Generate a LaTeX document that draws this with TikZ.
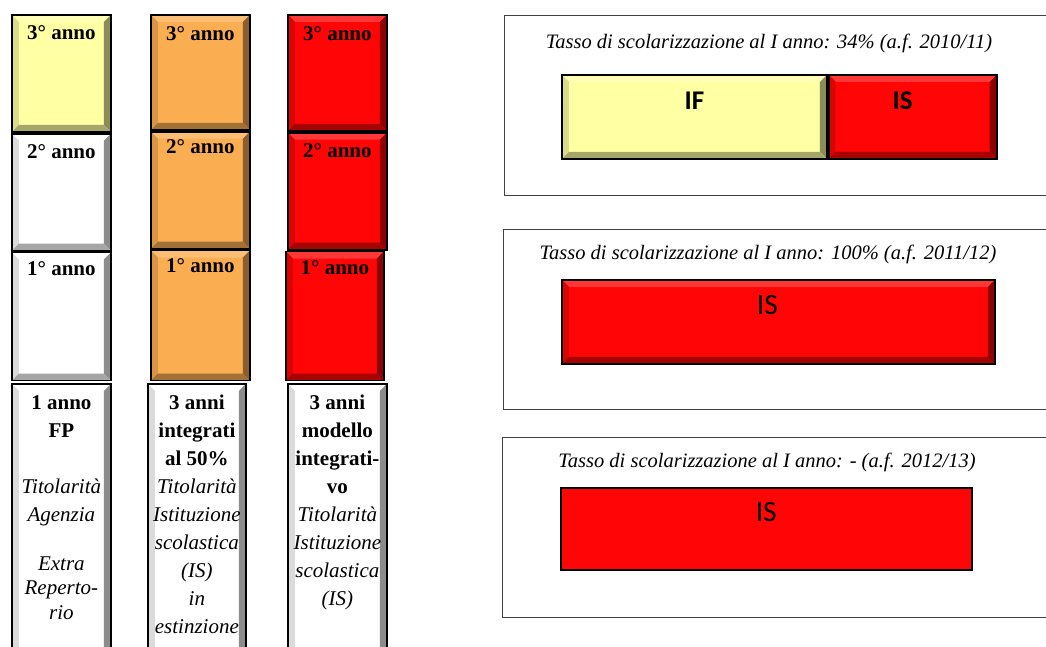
\documentclass[tikz,border=0pt]{standalone}
\usepackage{fontspec}
\setmainfont{Liberation Serif}
\newfontfamily\calibri{Carlito}
\usetikzlibrary{positioning}
\definecolor{anno-yellow}{HTML}{FFFFA3}
\definecolor{anno-orange}{HTML}{FBAD52}
\definecolor{anno-red}{HTML}{FF0505}
\definecolor{frame-gray}{HTML}{404040}

\begin{document}
\begin{tikzpicture}[x=1pt, y=-1pt,
    bevel/.style={rectangle, draw=black, line width=1.8pt, fill=#1, anchor=north west, inner sep=0pt,
        path picture={
            \fill[#1!80!white] (path picture bounding box.north west) -- (path picture bounding box.north east)
                -- ([xshift=-7pt,yshift=-7pt]path picture bounding box.north east) -- ([xshift=7pt,yshift=-7pt]path picture bounding box.north west) -- cycle;
            \fill[#1!86!black] (path picture bounding box.north west) -- ([xshift=7pt,yshift=-7pt]path picture bounding box.north west)
                -- ([xshift=7pt,yshift=7pt]path picture bounding box.south west) -- (path picture bounding box.south west) -- cycle;
            \fill[#1!55!black] (path picture bounding box.north east) -- (path picture bounding box.south east)
                -- ([xshift=-7pt,yshift=7pt]path picture bounding box.south east) -- ([xshift=-7pt,yshift=-7pt]path picture bounding box.north east) -- cycle;
            \fill[#1!65!black] (path picture bounding box.south west) -- (path picture bounding box.south east)
                -- ([xshift=-7pt,yshift=7pt]path picture bounding box.south east) -- ([xshift=7pt,yshift=7pt]path picture bounding box.south west) -- cycle;
        }},
    boxwh/.style 2 args={minimum width=#1, minimum height=#2},
    panel/.style={rectangle, draw=frame-gray, line width=1pt, anchor=north west, inner sep=0pt},
    plainbar/.style={rectangle, draw=black, line width=1.5pt, fill=#1, anchor=north west, inner sep=0pt},
    yrtxt/.style={font=\bfseries\fontsize{21}{25}\selectfont, inner sep=0pt},
    desc/.style={align=center, font=\fontsize{21}{28}\selectfont, inner sep=0pt},
    ttl/.style={font=\itshape\fontsize{20.5}{24}\selectfont, inner sep=0pt, anchor=base},
    bartxt/.style={font=\calibri\fontsize{29.5}{32}\selectfont, inner sep=0pt}
]
    \useasboundingbox (0,0) rectangle (1046,646);

    % right panels
    \node[panel, boxwh={560pt}{180pt}] (pan1) at (504,15) {};
    \node[panel, boxwh={560pt}{180pt}] (pan2) at (503,229) {};
    \node[panel, boxwh={560pt}{180pt}] (pan3) at (502,437) {};

    \node[ttl] (ttl1) at (769,48) {Tasso di scolarizzazione al I anno: 34\% (a.f. 2010/11)};
    \node[ttl] (ttl2) at (768,259) {Tasso di scolarizzazione al I anno: 100\% (a.f. 2011/12)};
    \node[ttl] (ttl3) at (767,467) {Tasso di scolarizzazione al I anno: - (a.f. 2012/13)};

    \node[bevel=anno-yellow, boxwh={265pt}{84pt}] (bar1if) at (561,74) {};
    \node[bevel=anno-red, boxwh={168pt}{84pt}] (bar1is) at (bar1if.north east) {};
    \node[bevel=anno-red, boxwh={433pt}{84pt}] (bar2is) at (561,279) {};
    \node[plainbar=anno-red, boxwh={411pt}{82pt}] (bar3is) at (560,487) {};

    \node[bartxt, font=\calibri\bfseries\fontsize{27}{30}\selectfont, below=18pt of bar1if.north] (bar1ift) {IF};
    \node[bartxt, font=\calibri\bfseries\fontsize{27}{30}\selectfont, below=18pt of bar1is.north, xshift=-10pt] (bar1ist) {IS};
    \node[bartxt, below=16pt of bar2is.north, xshift=-11pt] (bar2ist) {IS};
    \node[bartxt, below=15pt of bar3is.north] (bar3ist) {IS};

    % column 1: FP
    \node[bevel=anno-yellow, boxwh={99pt}{117pt}] (c1y3) at (11,14) {};
    \node[bevel=white, boxwh={99pt}{117pt}] (c1y2) at (c1y3.south west) {};
    \node[bevel=white, boxwh={99pt}{128pt}] (c1y1) at (c1y2.south west) {};
    \node[bevel=white, boxwh={99pt}{280pt}] (c1b) at (11,383) {};

    % column 2: integrati al 50%
    \node[bevel=anno-orange, boxwh={99pt}{115pt}] (c2y3) at (150,14) {};
    \node[bevel=anno-orange, boxwh={99pt}{117pt}] (c2y2) at (c2y3.south west) {};
    \node[bevel=anno-orange, boxwh={99pt}{130pt}] (c2y1) at (c2y2.south west) {};
    \node[bevel=white, boxwh={98pt}{280pt}] (c2b) at (147,383) {};

    % column 3: modello integrativo
    \node[bevel=anno-red, boxwh={99pt}{116pt}] (c3y3) at (287,14) {};
    \node[bevel=anno-red, boxwh={99pt}{117pt}] (c3y2) at (c3y3.south west) {};
    \node[bevel=anno-red, boxwh={98pt}{129pt}] (c3y1) at ([xshift=-2pt]c3y2.south west) {};
    \node[bevel=white, boxwh={99pt}{280pt}] (c3b) at (287,383) {};

    \node[yrtxt, below=11pt of c1y3.north] (c1y3t) {3° anno};
    \node[yrtxt, below=12pt of c1y2.north] (c1y2t) {2° anno};
    \node[yrtxt, below=10pt of c1y1.north] (c1y1t) {1° anno};
    \node[yrtxt, below=12pt of c2y3.north] (c2y3t) {3° anno};
    \node[yrtxt, below=9pt of c2y2.north] (c2y2t) {2° anno};
    \node[yrtxt, below=9pt of c2y1.north] (c2y1t) {1° anno};
    \node[yrtxt, below=12pt of c3y3.north] (c3y3t) {3° anno};
    \node[yrtxt, below=12pt of c3y2.north] (c3y2t) {2° anno};
    \node[yrtxt, below=10pt of c3y1.north] (c3y1t) {1° anno};

    \node[desc, below=12pt of c1b.north] (c1bt) {\textbf{1 anno}\\\textbf{FP}\\[28pt]\textit{Titolarità}\\\textit{Agenzia}\\[21pt]\textit{Extra}\\[-4pt]\textit{Reperto-}\\[-3pt]\textit{rio}};
    \node[desc, below=12pt of c2b.north] (c2bt) {\textbf{3 anni}\\\textbf{integrati}\\\textbf{al 50\%}\\\textit{Titolarità}\\\textit{Istituzione}\\\textit{scolastica}\\\textit{(IS)}\\\textit{in}\\\textit{estinzione}};
    \node[desc, below=12pt of c3b.north] (c3bt) {\textbf{3 anni}\\\textbf{modello}\\\textbf{integrati-}\\\textbf{vo}\\\textit{Titolarità}\\\textit{Istituzione}\\\textit{scolastica}\\\textit{(IS)}};
\end{tikzpicture}
\end{document}
